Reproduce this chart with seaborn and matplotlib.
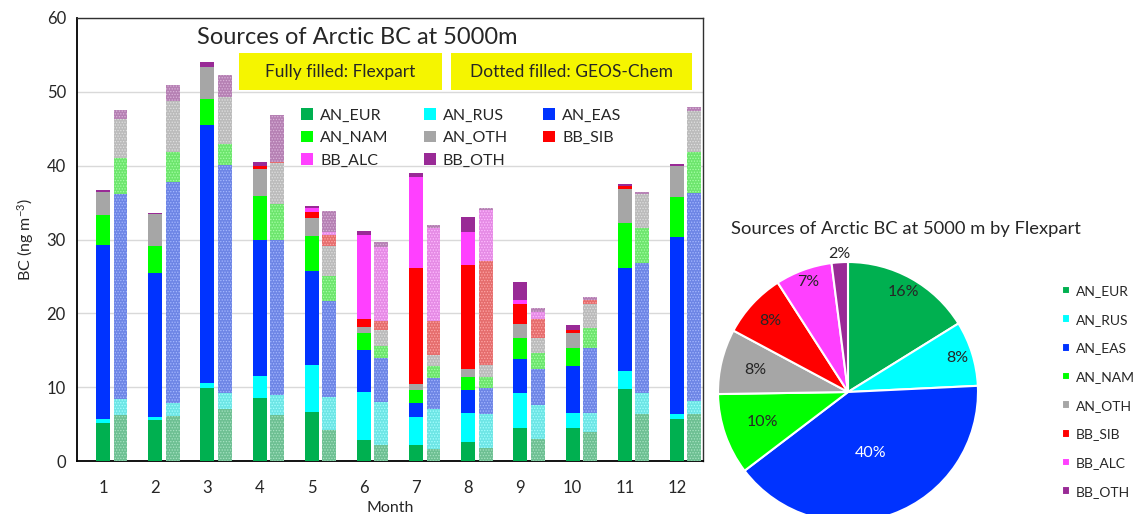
import numpy as np
import pandas as pd
import matplotlib
matplotlib.use("Agg")
import matplotlib.pyplot as plt
import seaborn as sns
from matplotlib.colors import to_rgb
from matplotlib.patches import Patch, Rectangle

# ---------------- data ----------------
months = ["1", "2", "3", "4", "5", "6", "7", "8", "9", "10", "11", "12"]
sources = ["AN_EUR", "AN_RUS", "AN_EAS", "AN_NAM", "AN_OTH", "BB_SIB", "BB_ALC", "BB_OTH"]

# Flexpart (fully filled)
flex_AN_EUR = [5.1, 5.55, 9.85, 8.6, 6.7, 2.9, 2.2, 2.6, 4.5, 4.5, 9.75, 5.65]
flex_AN_RUS = [0.55, 0.35, 0.75, 2.95, 6.3, 6.5, 3.7, 3.85, 4.7, 1.95, 2.45, 0.75]
flex_AN_EAS = [23.6, 19.5, 34.9, 18.35, 12.7, 5.7, 1.9, 3.15, 4.6, 6.35, 13.9, 24.0]
flex_AN_NAM = [4.05, 3.7, 3.5, 6.0, 4.8, 2.2, 1.8, 1.8, 2.8, 2.55, 6.1, 5.4]
flex_AN_OTH = [3.2, 4.3, 4.4, 3.65, 2.4, 0.8, 0.8, 1.1, 2.0, 2.05, 4.7, 4.1]
flex_BB_SIB = [0.0, 0.0, 0.0, 0.45, 0.8, 1.1, 15.7, 14.0, 2.6, 0.3, 0.3, 0.0]
flex_BB_ALC = [0.0, 0.0, 0.0, 0.0, 0.5, 11.4, 12.4, 4.55, 0.6, 0.0, 0.0, 0.0]
flex_BB_OTH = [0.15, 0.15, 0.6, 0.45, 0.3, 0.5, 0.55, 2.05, 2.5, 0.7, 0.3, 0.3]

# GEOS-Chem (dotted filled)
geos_AN_EUR = [6.25, 6.1, 7.1, 6.2, 4.2, 2.2, 1.6, 1.7, 3.0, 3.9, 6.3, 6.3]
geos_AN_RUS = [2.15, 1.7, 2.1, 2.8, 4.5, 5.75, 5.5, 4.6, 4.6, 2.55, 2.9, 1.8]
geos_AN_EAS = [27.8, 30.0, 30.9, 20.9, 13.0, 6.05, 4.2, 3.6, 4.9, 8.9, 17.6, 28.2]
geos_AN_NAM = [4.9, 4.0, 2.9, 4.9, 3.3, 1.6, 1.6, 1.5, 2.1, 2.65, 4.8, 5.6]
geos_AN_OTH = [5.2, 7.0, 6.3, 5.5, 4.1, 2.2, 1.5, 1.6, 2.0, 3.3, 4.5, 5.5]
geos_BB_SIB = [0.0, 0.0, 0.0, 0.2, 1.5, 1.1, 4.6, 14.1, 2.7, 0.5, 0.1, 0.0]
geos_BB_ALC = [0.0, 0.0, 0.0, 0.0, 0.4, 10.1, 12.6, 6.9, 0.9, 0.0, 0.0, 0.0]
geos_BB_OTH = [1.2, 2.1, 3.0, 6.3, 2.8, 0.7, 0.3, 0.2, 0.5, 0.4, 0.2, 0.6]

# Pie: annual Flexpart source shares (%)
pie_pct = [16, 8, 40, 10, 8, 8, 7, 2]

# ---------------- styles ----------------
colors = ["#00b050", "#00ffff", "#0033ff", "#00ff00", "#a6a6a6", "#ff0000", "#ff40ff", "#992a96"]
gray = np.array(to_rgb("#cdcdcd"))
white = np.array([1.0, 1.0, 1.0])
dotted = [tuple(0.47 * np.array(to_rgb(c)) + 0.53 * gray) for c in colors]
dots = [tuple(0.35 * np.array(to_rgb(c)) + 0.65 * white) for c in colors]

sns.set_style("white")
plt.rcParams["font.family"] = ["Lato", "DejaVu Sans"]
plt.rcParams["mathtext.default"] = "regular"
plt.rcParams["hatch.linewidth"] = 0.6

W, H = 1135, 514
fig = plt.figure(figsize=(W / 100, H / 100), dpi=100)

def fx(px):
    return px / W

def fy(py):
    return 1 - py / H

# ---------------- bar chart ----------------
ax = fig.add_axes([fx(77), fy(461), fx(703) - fx(77), fy(18) - fy(461)])

flex = pd.DataFrame({"month": months, "model": "Flexpart",
                     "AN_EUR": flex_AN_EUR, "AN_RUS": flex_AN_RUS, "AN_EAS": flex_AN_EAS,
                     "AN_NAM": flex_AN_NAM, "AN_OTH": flex_AN_OTH, "BB_SIB": flex_BB_SIB,
                     "BB_ALC": flex_BB_ALC, "BB_OTH": flex_BB_OTH})
geos = pd.DataFrame({"month": months, "model": "GEOS-Chem",
                     "AN_EUR": geos_AN_EUR, "AN_RUS": geos_AN_RUS, "AN_EAS": geos_AN_EAS,
                     "AN_NAM": geos_AN_NAM, "AN_OTH": geos_AN_OTH, "BB_SIB": geos_BB_SIB,
                     "BB_ALC": geos_BB_ALC, "BB_OTH": geos_BB_OTH})
df = pd.concat([flex, geos], ignore_index=True)
cum = df[sources].cumsum(axis=1)

for k in reversed(range(len(sources))):
    d = pd.DataFrame({"month": df["month"], "model": df["model"], "top": cum[sources[k]]})
    n0 = len(ax.containers)
    sns.barplot(data=d, x="month", y="top", hue="model",
                hue_order=["_pad", "Flexpart", "GEOS-Chem"], order=months,
                palette={"_pad": "white", "Flexpart": colors[k], "GEOS-Chem": dotted[k]},
                width=1.0, gap=0.2, dodge=True, errorbar=None, linewidth=0,
                saturation=1, legend=False, ax=ax, zorder=3)
    new = [c for c in ax.containers[n0:] if len(c.patches) > 0]
    for p in new[-1].patches:
        p.set_hatch("......")
        p.set_edgecolor(dots[k])
        p.set_linewidth(0)

ax.set_ylim(0, 60)
ax.set_xlim(-0.5, 11.5)
ax.set_yticks(range(0, 61, 10))
ax.set_xticks(range(12))
ax.set_xticklabels(months)
ax.set_xticks(np.arange(-0.5, 12, 1.0), minor=True)
ax.tick_params(axis="x", which="major", length=0, labelsize=12, pad=14)
ax.tick_params(axis="x", which="minor", length=5, width=1.2, direction="out", color="black")
ax.tick_params(axis="y", length=8, width=1.2, direction="inout", labelsize=12, pad=4, color="black")
ax.yaxis.grid(True, color="#d9d9d9", linewidth=1, zorder=0)
ax.set_axisbelow(True)
for s in ["left", "bottom"]:
    ax.spines[s].set_color("black")
    ax.spines[s].set_linewidth(1.3)
for s in ["top", "right"]:
    ax.spines[s].set_color("#303030")
    ax.spines[s].set_linewidth(1.0)
ax.set_xlabel("Month", fontsize=11.5, labelpad=3)
ax.set_ylabel("BC (ng m$^{-3}$)", fontsize=11.5, labelpad=8)

# Titles & yellow boxes
fig.text(fx(357), fy(37), "Sources of Arctic BC at 5000m", fontsize=17, ha="center", va="center")
for (x0, x1), label in [((239, 442), "Fully filled: Flexpart"), ((451, 692), "Dotted filled: GEOS-Chem")]:
    fig.patches.append(Rectangle((fx(x0), fy(90)), fx(x1) - fx(x0), fy(53) - fy(90),
                                 transform=fig.transFigure, facecolor="#f5f500",
                                 edgecolor="none", zorder=5))
    fig.text(fx((x0 + x1) / 2), fy(72), label, fontsize=12.5, ha="center", va="center", zorder=6)

# bar legend (3 columns, filled column-wise)
order_idx = [0, 3, 6, 1, 4, 7, 2, 5]
handles = [Patch(facecolor=colors[i], edgecolor="none", label=sources[i]) for i in order_idx]
ax.legend(handles=handles, ncol=3, loc="upper left",
          bbox_to_anchor=(fx(293), fy(100)), bbox_transform=fig.transFigure,
          frameon=False, fontsize=11.5, handlelength=0.75, handleheight=0.75,
          handletextpad=0.45, columnspacing=2.2, labelspacing=0.52, borderpad=0)

# ---------------- pie chart ----------------
cx, cy, r = 848, 392, 130
L = 2.5 * r
ax2 = fig.add_axes([fx(cx - L / 2), fy(cy + L / 2), L / W, L / H])
wedges, texts, autotexts = ax2.pie(pie_pct, colors=colors, startangle=90, counterclock=False,
                                   autopct="%.0f%%", pctdistance=0.75,
                                   wedgeprops=dict(edgecolor="white", linewidth=1.5),
                                   textprops=dict(fontsize=11.5))
label_r = [0.88, 0.88, 0.5, 0.70, 0.73, 0.81, 0.9, 1.06]
for w, t, fr in zip(wedges, autotexts, label_r):
    ang = np.deg2rad((w.theta1 + w.theta2) / 2)
    t.set_position((fr * np.cos(ang), fr * np.sin(ang)))
autotexts[2].set_color("white")

fig.text(fx(906), fy(229), "Sources of Arctic BC at 5000 m by Flexpart", fontsize=13.2,
         ha="center", va="center")
fig.legend(handles=wedges, labels=sources, loc="upper left",
           bbox_to_anchor=(fx(1055), fy(278)), frameon=False, fontsize=10,
           handlelength=0.6, handleheight=0.6, handletextpad=0.4, labelspacing=1.2, borderpad=0)

fig.savefig("out.png", dpi=100)
